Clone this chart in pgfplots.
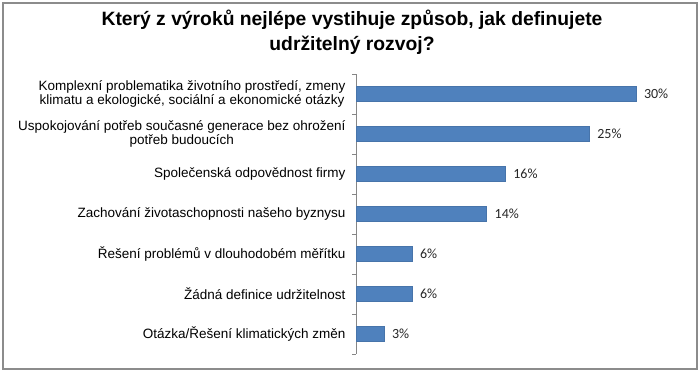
\documentclass[border=0pt]{standalone}
\usepackage{pgfplots}
\pgfplotsset{compat=1.18}
\usepackage{fontspec}
\setmainfont{Liberation Sans}
\newfontfamily\calib{Carlito}
\definecolor{barblue}{RGB}{79,129,189}
\definecolor{framegray}{RGB}{140,140,140}
\definecolor{axgray}{RGB}{134,134,134}
\begin{document}
\begin{tikzpicture}[x=1pt,y=1pt]
\useasboundingbox (0,0) rectangle (700,372);
\draw[framegray, line width=1.5pt] (3,3) rectangle (697,369);
\node[font=\fontsize{19.3}{25}\selectfont\bfseries, align=center] at (352,339.5) {Který z výroků nejlépe vystihuje způsob, jak definujete\\udržitelný rozvoj?};
\begin{axis}[
  at={(356pt,18pt)}, anchor=south west,
  scale only axis, width=336pt, height=280pt,
  xmin=0, xmax=36, ymin=-0.5, ymax=6.5, y dir=reverse,
  xbar, bar width=15pt,
  axis lines*=left,
  x axis line style={draw=none},
  y axis line style={draw=axgray, line width=0.8pt},
  xtick=\empty,
  ytick={0,...,6},
  yticklabels={{Komplexní problematika životního prostředí, zmeny\\klimatu a ekologické, sociální a ekonomické otázky},
    {Uspokojování potřeb současné generace bez ohrožení\\potřeb budoucích},
    {Společenská odpovědnost firmy},
    {Zachování životaschopnosti našeho byznysu},
    {Řešení problémů v dlouhodobém měřítku},
    {Žádná definice udržitelnost},
    {Otázka/Řešení klimatických změn}},
  major tick length=0pt,
  minor ytick={-0.5,0.5,...,6.5},
  minor tick length=4pt,
  tick align=outside,
  minor tick style={draw=axgray, line width=0.8pt},
  yticklabel style={font=\fontsize{13.5}{14}\selectfont, align=center, xshift=-7pt},
  /pgf/number format/assume math mode=true,
  nodes near coords={\pgfmathprintnumber{\pgfplotspointmeta}\%},
  nodes near coords style={font=\calib\fontsize{14}{14}\selectfont, anchor=west, xshift=4.5pt, text=black!85},
  point meta=x,
  clip=false,
]
\addplot[fill=barblue, draw=barblue!90!black] coordinates {(30,0) (25,1) (16,2) (14,3) (6,4) (6,5) (3,6)};
\end{axis}
\end{tikzpicture}
\end{document}
